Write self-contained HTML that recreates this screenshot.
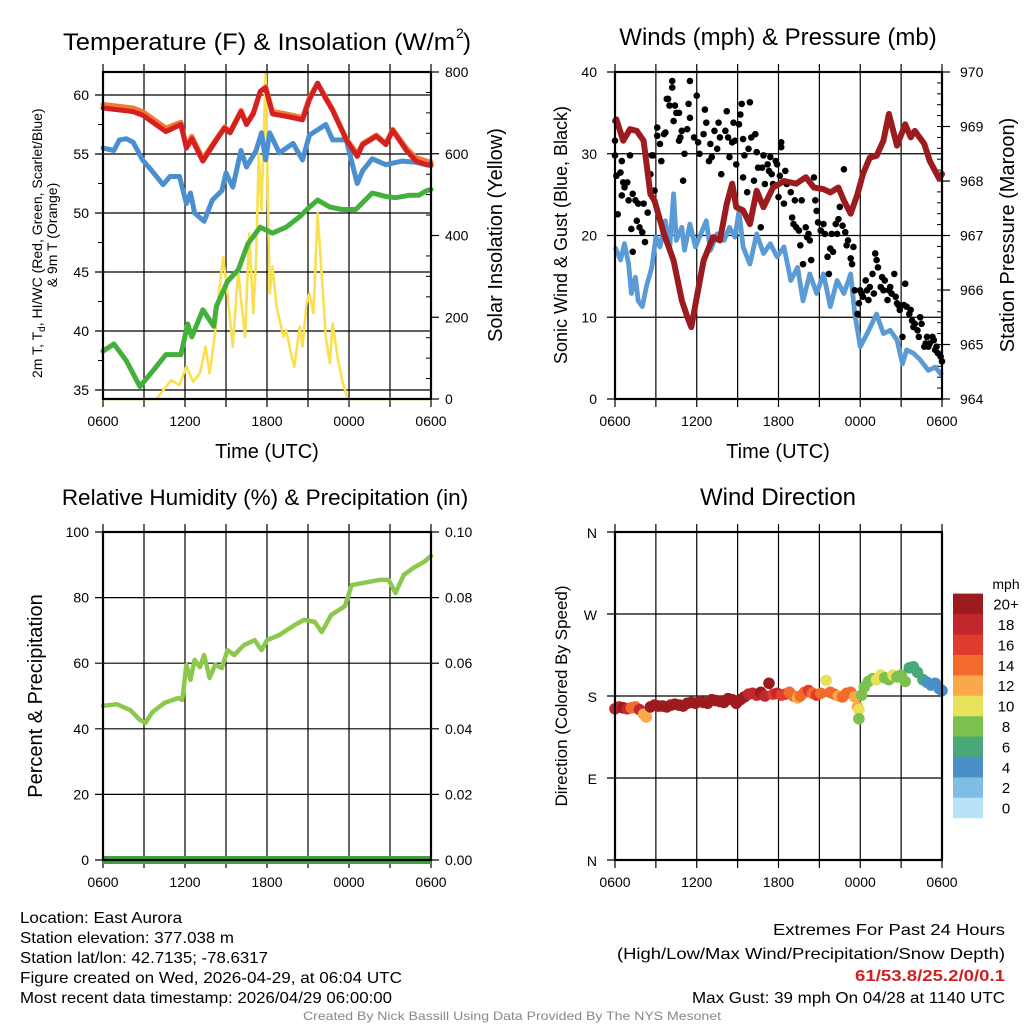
<!DOCTYPE html>
<html><head><meta charset="utf-8"><style>
html,body{margin:0;padding:0;background:#fff;}
svg{display:block;font-family:"Liberation Sans",sans-serif;}
</style></head><body>
<svg id="fig" width="1024" height="1024" viewBox="0 0 1024 1024">
<g id="g-grid"></g><g id="g-data"></g><g id="g-frame"></g><g id="g-text"></g>
</svg>
<script>
// ---------- Panel 1: temperature & insolation ----------
const tRedHour=[0,2.2,2.9,4.6,5.7,6.1,6.5,7.3,8.3,8.9,9.3,10.1,10.5,11.0,11.5,11.9,12.4,13.4,14.6,15.1,15.7,16.2,16.8,17.8,18.6,19.0,20.0,20.7,21.2,22.2,22.9,23.7,24];
const tRedVal=[58.9,58.6,58.3,56.9,57.5,55.5,56.3,54.4,56.2,57.2,56.8,58.6,57.5,58.4,60.3,60.6,58.4,58.2,57.9,59.6,61.0,59.9,58.7,56.2,54.8,55.8,56.5,55.8,57.0,55.3,54.4,54.1,54.1];
const tOrgVal=[59.2,58.9,58.6,57.2,57.7,55.6,56.5,54.6,56.3,57.3,56.9,58.7,57.6,58.5,60.3,60.7,58.6,58.4,58.1,59.8,61.0,60.0,58.8,56.3,55.0,55.9,56.6,55.9,57.1,55.5,54.7,54.4,54.3];
const tBlueHour=[0,0.8,1.2,1.7,2.2,2.9,3.7,4.4,4.9,5.6,6.1,6.4,6.7,7.4,8.0,8.7,9.0,9.5,10.1,10.5,11.2,11.6,11.9,12.2,12.9,13.9,14.6,15.1,16.3,16.8,17.8,18.6,19.0,19.7,20.7,21.9,22.9,24];
const tBlueVal=[55.5,55.3,56.2,56.3,56.0,54.5,53.4,52.4,53.1,53.1,50.8,51.7,50.0,49.3,51.1,51.9,53.4,52.2,55.3,53.9,55.3,56.8,54.5,56.8,55.1,55.9,54.5,56.6,57.5,56.2,56.2,52.5,53.6,54.6,54.1,54.4,54.3,54.0];
const tGrnHour=[0,0.8,1.7,2.7,3.7,4.6,5.7,6.2,6.5,7.3,8.1,8.3,9.1,9.9,10.6,11.5,12.4,13.4,14.4,15.1,15.7,16.6,17.5,18.5,19.7,20.7,21.4,22.4,23.1,23.7,24];
const tGrnVal=[38.3,38.9,37.5,35.3,36.7,38.0,38.0,40.6,39.5,41.8,40.4,42.1,44.2,45.2,47.4,48.8,48.3,48.8,49.7,50.5,51.1,50.5,50.3,50.3,51.7,51.4,51.3,51.5,51.5,51.9,52.0];
const solHour=[0,3.9,5.0,5.6,6.1,6.6,7.1,7.5,7.8,8.2,8.5,8.8,9.1,9.5,9.9,10.1,10.4,10.7,11.0,11.2,11.4,11.6,11.9,12.1,12.2,12.4,12.7,13.2,13.4,13.8,14.0,14.4,14.6,14.9,15.1,15.4,15.7,16.1,16.3,16.6,16.8,17.2,17.5,17.9,24];
const solVal=[0,0,46,34,79,42,63,128,63,160,267,348,258,128,316,242,152,405,210,340,601,462,797,422,258,324,226,152,169,104,79,177,128,234,258,210,454,258,152,87,185,95,46,0,0];
const p1TempTicks=[35,40,45,50,55,60];
const p1SolTicks=[0,200,400,600,800];
// ---------- Panel 2: wind & pressure ----------
const wsHour=[0,0.4,0.7,1.0,1.2,1.5,1.7,2.0,2.3,2.7,3.0,3.3,3.7,4.0,4.3,4.5,4.9,5.1,5.5,5.9,6.3,6.7,7.0,7.5,8.0,8.4,8.8,9.1,9.4,9.9,10.4,10.9,11.4,11.9,12.4,12.9,13.4,13.8,14.3,14.8,15.3,15.8,16.3,16.8,17.3,17.6,18.0,18.5,19.2,19.7,20.2,20.7,21.1,21.4,21.9,22.4,23.0,23.5,24];
const wsVal=[18.6,17,19,16.5,12.9,14.9,12,11.3,13.7,16.1,19.8,18.6,21.8,18.2,25.1,19.4,21,18.2,21.4,18.6,20.2,21.8,18.2,20.2,19.4,21,19.8,23,18.6,16.5,20.2,17.8,19,17.4,18.6,14.5,16.1,12,15.3,12.9,15.3,11.3,14.5,12.9,15.3,10.4,6.4,8.0,10.4,8,8.4,7.2,4.3,6,5.6,4.8,3.5,3.9,2.9];
const presHour=[0,0.1,0.6,1.1,1.6,2.1,2.6,2.9,3.6,4.3,4.9,5.3,5.6,6.0,6.5,7.2,7.7,8.2,8.6,8.9,9.4,9.9,10.4,10.9,11.6,12.4,13.3,14.0,14.6,15.3,15.8,16.4,16.8,17.3,17.8,18.2,18.7,19.2,19.7,20.1,20.7,21.3,21.7,22.0,22.7,23.1,23.8,24];
const presVal=[969.1,969.13,968.74,968.95,968.92,968.74,967.76,967.64,967.03,966.54,965.81,965.51,965.32,965.87,966.54,966.97,966.91,967.58,967.95,967.52,967.46,967.21,967.82,967.52,967.88,968.0,967.95,968.07,967.88,967.85,967.79,967.88,967.64,967.40,967.76,968.13,968.43,968.46,968.74,969.23,968.65,969.04,968.80,968.92,968.68,968.37,968.04,968.13];
const gustHour=[0,0,0.1,0.2,0.4,0.5,0.6,0.7,0.5,0.9,1.0,1.1,1.2,1.3,1.5,1.6,1.7,1.8,2.0,2.1,2.2,2.4,1.3,2.6,2.7,2.9,2.8,3.1,3.1,3.3,3.4,3.6,3.7,3.8,3.9,4.0,4.2,4.2,4.3,4.4,4.5,4.7,4.7,4.8,4.9,5.0,5.1,5.3,5.4,5.5,5.5,5.8,6.0,6.1,6.2,6.5,6.6,6.7,6.9,7.0,7.1,7.3,7.5,7.6,7.7,7.8,8.1,8.2,8.3,8.4,8.6,8.7,8.8,8.9,9.1,9.2,9.3,9.4,9.4,9.5,9.7,9.8,9.9,10.0,10.2,10.3,10.4,10.5,10.7,10.8,10.9,11.0,11.2,11.3,11.4,11.5,11.6,11.8,11.9,12.0,12.1,12.2,12.2,12.4,12.5,12.6,12.9,13.0,13.1,13.2,13.3,13.5,13.6,13.7,13.8,14.0,14.1,14.2,14.3,14.4,14.6,14.7,14.8,14.9,15.1,15.3,15.4,15.6,15.7,15.8,15.9,16.0,16.2,16.3,16.4,16.5,16.7,16.8,16.9,17.0,17.1,17.3,17.4,17.5,17.6,17.8,17.9,18.0,18.1,18.2,18.4,18.5,18.6,18.7,18.9,19.0,19.1,19.2,19.3,19.5,19.6,19.7,19.8,20.0,20.1,20.2,20.3,20.5,20.6,20.7,20.8,20.9,21.1,21.2,21.3,21.4,21.6,21.7,21.8,21.9,22.0,22.2,22.3,22.4,22.5,22.7,22.8,22.9,23.0,23.1,23.3,23.4,23.5,23.6,23.7,23.9,24.0];
const gustVal=[31.6,29.8,27.3,22.6,27.7,29.1,26.5,25.9,24.9,26.5,24.3,29.8,20.8,25.1,24.3,21.8,23.9,21,20.4,23.9,19.2,22.8,18,27.5,29.8,25.5,29.8,33.2,32.2,31.2,29.1,32.4,32.6,36.7,36.7,35.9,38.9,38.1,34,35.9,35,31.6,35,32,32.8,26.7,30,33,36.1,34.4,38.9,32,37.1,31.4,30,32.4,35.4,33.8,29.1,31.2,29.6,32.8,30.6,33.8,32,27.5,32.8,35.2,32,29.6,31.4,33.8,31.6,28.7,33.6,34.8,36.1,31.8,27.1,29.8,25.3,30.6,36.3,32,26.7,32.4,30.2,28.3,21,28.3,29.8,26.3,28.7,27.9,29.6,27.5,26.3,29.1,28.7,24.7,27.3,31.4,30.8,23.9,27.9,26.3,25.3,22.2,21.4,24.3,21,20.6,18.8,24.3,16.5,21,19.8,20.2,19.4,17,27.1,24.3,23,21.6,20.6,21.4,20.2,17.4,15.3,18.4,20.2,18,21.4,20.2,22,23.5,21.2,28.1,20.4,18.8,19.4,17.2,16.5,18.6,13.3,10.4,11.7,13.3,12.9,12.5,14.5,13.3,12.1,13.7,15.3,12.9,17.8,17,16.1,13.7,14.9,13.3,14.5,12.1,13.3,13.7,12.9,15.3,12.5,11.7,11.5,10.9,7.6,11.5,14.1,11.3,10.4,10.9,9.6,8.8,9.2,8.4,7.6,10.0,9.2,6.4,6.8,7.6,6.4,6.8,7.6,7.2,6.0,6.4,5.6,5.2,4.6];
const p2WindTicks=[0,10,20,30,40];
const p2PresTicks=[964,965,966,967,968,969,970];
// ---------- Panel 3: RH & precip ----------
const rhHour=[0,1.0,2.0,2.7,3.1,3.6,4.5,5.5,5.8,6.1,6.4,6.7,7.1,7.4,7.8,8.2,8.7,9.1,9.6,10.3,11.1,11.6,12.0,12.9,14.0,14.7,15.5,16.0,16.7,17.7,18.2,19.1,20.2,20.9,21.4,22.0,22.8,23.5,24];
const rhVal=[47,47.5,45.7,42.7,41.8,45,47.9,49.4,48.8,59.5,54.9,61,58.8,62.5,55.5,59.5,58.5,64,62.5,65.5,67,64,67,68.6,71.6,73.2,72.6,69.5,74.7,77.4,83.8,84.5,85.4,85.4,81.4,86.9,89.3,90.9,92.7];
const precipHour=[0,24];
const precipVal=[0,0];
const p3RhTicks=[0,20,40,60,80,100];
const p3PrTicks=["0.00","0.02","0.04","0.06","0.08","0.10"];
// ---------- Panel 4: wind direction ----------
const dirHour=[0,0.3,0.6,0.9,1.2,1.5,1.8,2.1,2.3,2.6,2.9,3.2,3.5,3.8,4.1,4.4,4.7,5.0,5.3,5.6,5.9,6.2,6.5,6.8,7.1,7.4,7.7,8.0,8.3,8.6,8.9,9.2,9.5,9.8,10.1,10.4,10.7,11.0,11.3,11.6,11.9,12.2,12.5,12.8,13.1,13.4,13.6,13.9,14.2,14.5,14.8,15.1,15.5,15.8,16.1,16.4,16.7,17.0,17.3,17.6,17.8,17.9,17.9,18.1,18.3,18.6,18.9,19.2,19.5,19.8,20.1,20.4,20.7,21.0,21.3,21.6,21.9,22.2,22.6,22.9,23.2,23.5,23.8,24.0];
const dirDeg=[166,168,167,166,167,168,165,160,157,168,170,169,169,168,170,171,170,169,172,173,172,174,173,172,176,175,174,173,177,176,172,176,179,182,183,181,184,180,194,182,183,181,182,184,180,178,180,184,186,183,181,183,197,184,182,180,179,183,184,179,168,165,155,181,190,196,199,198,203,200,198,203,201,203,196,211,212,206,198,195,192,194,188,186];
const dirSpd=[18,18,19,17,13,14,17,12,11,20,21,21,22,21,22,21,22,23,22,21,22,23,22,21,22,23,21,22,22,21,21,19,19,18,18,17,19,18,19,16,17,16,15,14,13,12,14,13,15,14,15,13,10,14,13,12,13,14,13,12,11,10,7,8,7,8,8,9,9,7,7,9,7,7,8,6,6,6,5,4,4,4,3,4];
const dirLabels=["N","E","S","W","N"];
const cbLabels=["0","2","4","6","8","10","12","14","16","18","20+"];
const cbColors=["#b8e2f7","#7fbce6","#4a8fc8","#48a878","#7cc14e","#e8e15a","#f9a84a","#f26a2c","#e03b2e","#c1272d","#9b1b1e"];
const timeLabels=["0600","1200","1800","0000","0600"];

// ---------- scales ----------
const NS="http://www.w3.org/2000/svg";
function mk(tag,attrs,parent,txt){const e=document.createElementNS(NS,tag);for(const k in attrs)e.setAttribute(k,attrs[k]);if(txt!==undefined)e.textContent=txt;parent.appendChild(e);return e;}
const gGrid=document.getElementById('g-grid'),gData=document.getElementById('g-data'),gFrame=document.getElementById('g-frame'),gText=document.getElementById('g-text');
const P1={l:103,r:431,t:72,b:399},P2={l:615,r:942,t:72,b:399},P3={l:103,r:431,t:532,b:860},P4={l:615,r:942,t:532,b:860};
const X1=h=>P1.l+h*(P1.r-P1.l)/24, X2=h=>P2.l+h*(P2.r-P2.l)/24;
const Y1T=v=>P1.b-(v-34.24)*11.8, Y1S=w=>P1.b-w*(P1.b-P1.t)/800;
const Y2W=v=>P2.b-v*(P2.b-P2.t)/40, Y2P=p=>P2.b-(p-964)*(P2.b-P2.t)/6;
const Y3R=v=>P3.b-v*(P3.b-P3.t)/100, Y3P=v=>P3.b-v*(P3.b-P3.t)/0.1;
const Y4=d=>P4.b-d*(P4.b-P4.t)/360;
function pathD(hs,vs,fx,fy){return hs.map((h,i)=>(i?'L':'M')+fx(h).toFixed(1)+','+fy(vs[i]).toFixed(1)).join('');}

function frame(P,name,ys,rightYs){
  const g=mk('g',{},gGrid);
  
  
  for(let k=0;k<=8;k++){const x=P.l+k*(P.r-P.l)/8;mk('line',{x1:x,x2:x,y1:P.t-8,y2:P.b+8,stroke:'#000','stroke-width':1.2},g);}
  ys.forEach(y=>mk('line',{x1:P.l-8,x2:P.r,y1:y,y2:y,stroke:'#000','stroke-width':1.2},g));
  (rightYs||[]).forEach(y=>mk('line',{x1:P.r,x2:P.r+8,y1:y,y2:y,stroke:'#000','stroke-width':1.2},g));
  const b=mk('rect',{x:P.l,y:P.t,width:P.r-P.l,height:P.b-P.t,fill:'none',stroke:'#000','stroke-width':2.2},gFrame);
  
  
  timeLabels.forEach((t,i)=>{const e=mk('text',{x:P.l+i*(P.r-P.l)/4,y:P.b+27,'text-anchor':'middle','font-size':14},gText,t);
    
    });
}
function txt(x,y,s,size,name,extra){const a=Object.assign({x:x,y:y,'font-size':size},extra||{});const e=mk('text',a,gText,s);
  
  return e;}

// ---------- Panel 1 ----------
frame(P1,'temperature-panel',p1TempTicks.map(Y1T),p1SolTicks.map(Y1S));
for(let v=37.5;v<62;v+=5){mk('line',{x1:P1.l-5,x2:P1.l,y1:Y1T(v),y2:Y1T(v),stroke:'#000'},gGrid);}
for(let w=50;w<800;w+=50){if(w%200)mk('line',{x1:P1.r-5,x2:P1.r,y1:Y1S(w),y2:Y1S(w),stroke:'#000'},gGrid);}
p1TempTicks.forEach(v=>txt(P1.l-14,Y1T(v)+5,String(v),14,'temp-y-tick-label',{'text-anchor':'end'}));
p1SolTicks.forEach(v=>txt(P1.r+14,Y1S(v)+5,String(v),14,'solar-y-tick-label'));
[[solHour,solVal,Y1S,'#f9e050',2.6,'solar-insolation-line'],[tGrnHour,tGrnVal,Y1T,'#44b03c',5,'dewpoint-line'],[tBlueHour,tBlueVal,Y1T,'#4a90d0',5,'heat-index-wind-chill-line'],[tRedHour,tOrgVal,Y1T,'#f47a30',5,'9m-temperature-line'],[tRedHour,tRedVal,Y1T,'#d42020',5,'2m-temperature-line']].forEach(s=>{
  const fy=s[2];const p=mk('path',{d:pathD(s[0],s[1],X1,fy),fill:'none',stroke:s[3],'stroke-width':s[4],'stroke-linejoin':'round','stroke-linecap':'round'},gData);
  
  });
// ---------- Panel 2 ----------
frame(P2,'wind-panel',p2WindTicks.map(Y2W),p2PresTicks.map(Y2P));
for(let p=964.2;p<970;p+=0.2){mk('line',{x1:P2.r-5,x2:P2.r,y1:Y2P(p),y2:Y2P(p),stroke:'#000'},gGrid);}
p2WindTicks.forEach(v=>txt(P2.l-18,Y2W(v)+5,String(v),14,'wind-y-tick-label',{'text-anchor':'end'}));
p2PresTicks.forEach(v=>txt(P2.r+18,Y2P(v)+5,String(v),14,'pressure-y-tick-label'));
{const p=mk('path',{d:pathD(wsHour,wsVal,X2,Y2W),fill:'none',stroke:'#5b9bd5','stroke-width':4.8,'stroke-linejoin':'round'},gData);

}
gustHour.forEach((h,i)=>{const c=mk('circle',{cx:X2(h),cy:Y2W(gustVal[i]),r:3.3,fill:'#000'},gData);

});
{const p=mk('path',{d:pathD(presHour,presVal,X2,Y2P),fill:'none',stroke:'#9b1b1e','stroke-width':6,'stroke-linejoin':'round','stroke-linecap':'round'},gData);

}
// ---------- Panel 3 ----------
frame(P3,'humidity-panel',p3RhTicks.map(Y3R),p3PrTicks.map(v=>Y3P(+v)));
p3RhTicks.forEach(v=>txt(P3.l-14,Y3R(v)+5,String(v),14,'rh-y-tick-label',{'text-anchor':'end'}));
p3PrTicks.forEach(v=>txt(P3.r+14,Y3P(+v)+5,v,14,'precip-y-tick-label'));
{const p=mk('path',{d:pathD(rhHour,rhVal,X1,Y3R),fill:'none',stroke:'#8cc84b','stroke-width':4.5,'stroke-linejoin':'round','stroke-linecap':'round'},gData);


const q=mk('path',{d:pathD(precipHour,precipVal,X1,Y3P),fill:'none',stroke:'#3fa03f','stroke-width':8},gData);

}
// ---------- Panel 4 ----------
frame(P4,'wind-direction-panel',[0,90,180,270,360].map(Y4),[]);
dirLabels.forEach((s,i)=>txt(P4.l-18,Y4(i*90)+6,s,14,'direction-tick-label',{'text-anchor':'end'}));
dirHour.forEach((h,i)=>{const idx=Math.min(10,Math.round(dirSpd[i]/2));const c=mk('circle',{cx:X2(h),cy:Y4(dirDeg[i]),r:5.8,fill:cbColors[idx]},gData);

});
cbColors.forEach((c,i)=>{const y=818-(i+1)*20.4;const r=mk('rect',{x:953,y:y,width:30,height:20.6,fill:c},gData);


txt(1006,y+16,cbLabels[i],15,'colorbar-label',{'text-anchor':'middle'});});
txt(1006,589,'mph',14,'colorbar-title',{'text-anchor':'middle'});

// ---------- titles & labels ----------
{const t=txt(63,50,'Temperature (F) & Insolation (W/m',24,'temperature-panel-title',{textLength:392,lengthAdjust:'spacingAndGlyphs'});
txt(456,38,'2',14,'title-superscript');txt(463,50,')',24,'title-paren');}
txt(778,45,'Winds (mph) & Pressure (mb)',24,'wind-panel-title',{'text-anchor':'middle'});
txt(265,505,'Relative Humidity (%) & Precipitation (in)',22.5,'humidity-panel-title',{'text-anchor':'middle'});
txt(778,505,'Wind Direction',24,'wind-direction-panel-title',{'text-anchor':'middle'});
txt(267,458,'Time (UTC)',20,'temperature-x-axis-title',{'text-anchor':'middle'});
txt(778,458,'Time (UTC)',20,'wind-x-axis-title',{'text-anchor':'middle'});
txt(0,0,'2m T, T',14,'temperature-y-axis-title',{transform:'translate(42,378) rotate(-90)'}).innerHTML='2m T, T<tspan font-size="10" dy="3">d</tspan><tspan dy="-3">, HI/WC (Red, Green, Scarlet/Blue)</tspan>';
txt(0,0,'& 9m T (Orange)',14,'temperature-y-axis-title-line2',{transform:'translate(57,235) rotate(-90)','text-anchor':'middle'});
txt(0,0,'Solar Insolation (Yellow)',20,'solar-y-axis-title',{transform:'translate(502,235) rotate(-90)','text-anchor':'middle'});
txt(0,0,'Sonic Wind & Gust (Blue, Black)',18,'wind-y-axis-title',{transform:'translate(567,235) rotate(-90)','text-anchor':'middle'});
txt(0,0,'Station Pressure (Maroon)',20,'pressure-y-axis-title',{transform:'translate(1014,235) rotate(-90)','text-anchor':'middle'});
txt(0,0,'Percent & Precipitation',20,'humidity-y-axis-title',{transform:'translate(42,696) rotate(-90)','text-anchor':'middle'});
txt(0,0,'Direction (Colored By Speed)',17,'direction-y-axis-title',{transform:'translate(567,696) rotate(-90)','text-anchor':'middle'});
const info=["Location: East Aurora","Station elevation: 377.038 m","Station lat/lon: 42.7135; -78.6317","Figure created on Wed, 2026-04-29, at 06:04 UTC","Most recent data timestamp: 2026/04/29 06:00:00"];
const infoW=[162,214,248,382,372];
info.forEach((s,i)=>txt(20,923+i*20,s,16,'station-info-line',{textLength:infoW[i],lengthAdjust:'spacingAndGlyphs'}));
txt(1005,935,'Extremes For Past 24 Hours',16,'extremes-title',{'text-anchor':'end',textLength:232,lengthAdjust:'spacingAndGlyphs'});
txt(1005,959,'(High/Low/Max Wind/Precipitation/Snow Depth)',16,'extremes-subtitle',{'text-anchor':'end',textLength:388,lengthAdjust:'spacingAndGlyphs'});
txt(1005,981,'61/53.8/25.2/0/0.1',16,'extremes-values',{'text-anchor':'end',fill:'#cc2222','font-weight':'bold',textLength:150,lengthAdjust:'spacingAndGlyphs'});
txt(1005,1003,'Max Gust: 39 mph On 04/28 at 1140 UTC',16,'max-gust-text',{'text-anchor':'end',textLength:313,lengthAdjust:'spacingAndGlyphs'});
txt(512,1020,'Created By Nick Bassill Using Data Provided By The NYS Mesonet',12,'credit-footer',{'text-anchor':'middle',fill:'#888',textLength:418,lengthAdjust:'spacingAndGlyphs'});
</script>
</body></html>
